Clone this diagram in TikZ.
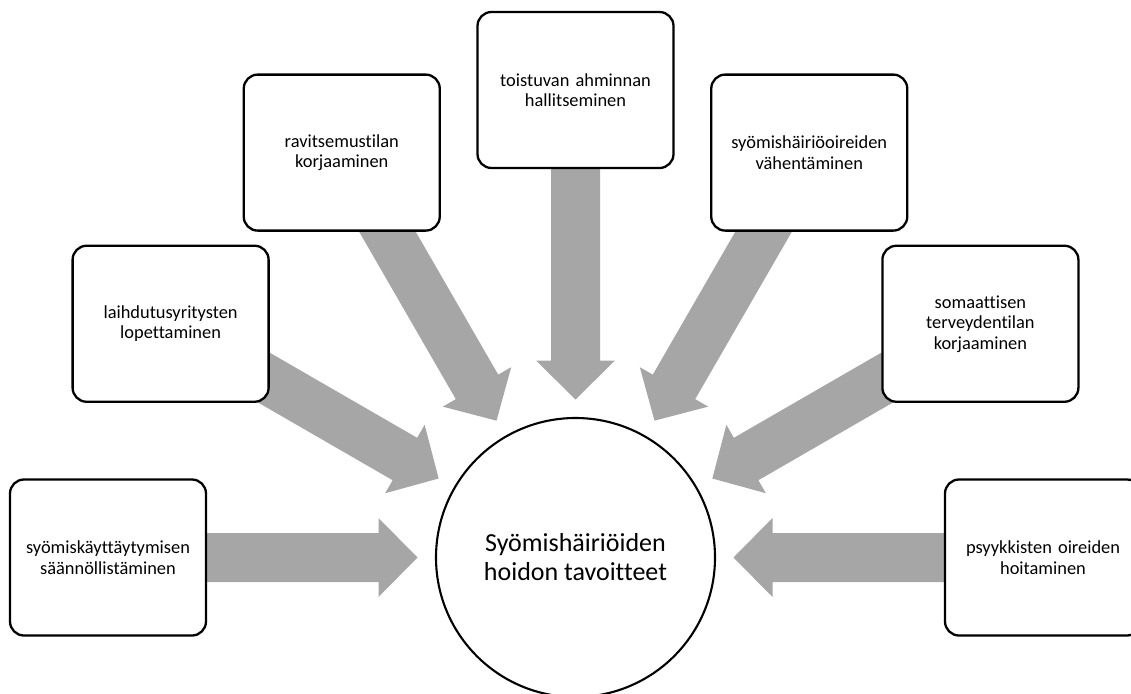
\documentclass[tikz,border=0pt]{standalone}
\usepackage{fontspec}
\setmainfont{Carlito}[Ligatures=NoCommon]
\usetikzlibrary{calc}
\definecolor{arrowgray}{RGB}{166,166,166}
\pgfdeclarelayer{bg}
\pgfsetlayers{bg,main}
\newcommand{\goalarrow}[2]{%
  \coordinate (h-#1) at ($(#2.center)!197pt!(#1.center)$);
  \coordinate (t-#1) at ($(#2.center)!158pt!(#1.center)$);
  \fill[blockarrow] ($(#1.center)!24.5pt!90:(#2.center)$)
    -- ($(h-#1)!24.5pt!90:(t-#1)$)
    -- ($(h-#1)!39.5pt!90:(t-#1)$)
    -- (t-#1)
    -- ($(h-#1)!39.5pt!-90:(t-#1)$)
    -- ($(h-#1)!24.5pt!-90:(t-#1)$)
    -- ($(#1.center)!24.5pt!-90:(#2.center)$) -- cycle;}
\begin{document}
\begin{tikzpicture}[x=1pt,y=-1pt,
  goalbox/.style={draw=black, line width=2.3pt, rounded corners=14pt, fill=white,
    minimum width=196pt, minimum height=156pt, inner sep=0pt, text width=185pt,
    align=center, font=\fontsize{18.4}{20.5}\selectfont},
  hub/.style={circle, draw=black, line width=2.1pt, fill=white, minimum size=279pt,
    inner sep=0pt, align=center, font=\fontsize{26}{29}\selectfont},
  blockarrow/.style={fill=arrowgray, draw=none}]
\useasboundingbox (0,0) rectangle (1131,693);
\clip (0,0) rectangle (1131,693);
\node[hub] (hub) at (575.5,557.5) {Syömishäiriöiden\\hoidon tavoitteet};
\node[goalbox] (b1) at (108,557.5) {syömiskäyttäytymisen\\säännöllistäminen};
\node[goalbox] (b2) at (170.6,323.75) {laihdutusyritysten\\lopettaminen};
\node[goalbox] (b3) at (341.75,152.6) {ravitsemustilan\\korjaaminen};
\node[goalbox] (b4) at (575.5,90) {toistuvan ahminnan\\hallitseminen};
\node[goalbox] (b5) at (809.25,152.6) {syömishäiriöoireiden\\vähentäminen};
\node[goalbox] (b6) at (980.4,323.75) {somaattisen\\terveydentilan\\korjaaminen};
\node[goalbox] (b7) at (1043,557.5) {psyykkisten oireiden\\hoitaminen};
\begin{pgfonlayer}{bg}
\goalarrow{b1}{hub}
\goalarrow{b2}{hub}
\goalarrow{b3}{hub}
\goalarrow{b4}{hub}
\goalarrow{b5}{hub}
\goalarrow{b6}{hub}
\goalarrow{b7}{hub}
\end{pgfonlayer}
\end{tikzpicture}
\end{document}
